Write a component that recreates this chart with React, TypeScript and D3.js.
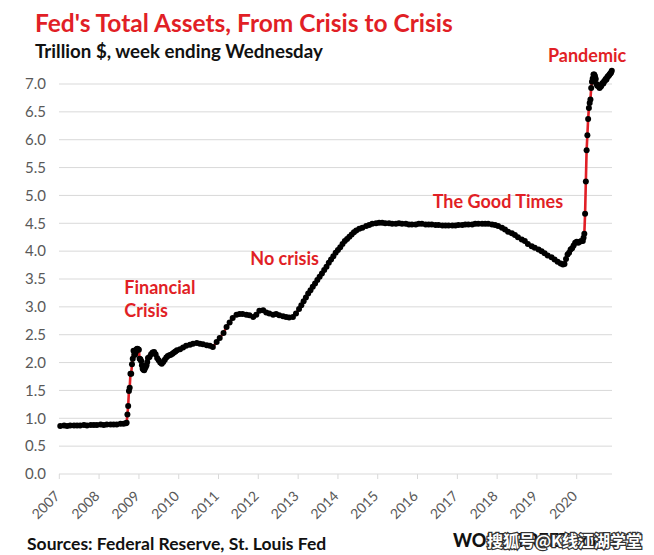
import React from "react";
import * as d3 from "d3";

// ---- Data (trillion $, week ending Wednesday) ----
const calm2007to2008: [string, number][] = [
  ["2007-01-10", 0.86], ["2007-02-14", 0.87], ["2007-03-14", 0.86], ["2007-04-11", 0.87],
  ["2007-05-16", 0.87], ["2007-06-13", 0.87], ["2007-07-11", 0.87], ["2007-08-15", 0.88],
  ["2007-09-12", 0.87], ["2007-10-17", 0.88], ["2007-11-14", 0.88], ["2007-12-12", 0.88],
  ["2008-01-16", 0.89], ["2008-02-13", 0.88], ["2008-03-12", 0.89], ["2008-04-16", 0.89],
  ["2008-05-14", 0.89], ["2008-06-11", 0.89], ["2008-07-16", 0.90], ["2008-08-13", 0.90],
  ["2008-09-03", 0.91], ["2008-09-10", 0.92],
];
const financialCrisis: [string, number][] = [
  ["2008-09-17", 1.07], ["2008-09-24", 1.22], ["2008-10-01", 1.49], ["2008-10-08", 1.55],
  ["2008-10-15", 1.80], ["2008-10-22", 1.80], ["2008-10-29", 1.97], ["2008-11-05", 2.07],
  ["2008-11-12", 2.21], ["2008-11-19", 2.14], ["2008-11-26", 2.14], ["2008-12-03", 2.19],
  ["2008-12-10", 2.24], ["2008-12-17", 2.25], ["2008-12-24", 2.24], ["2008-12-31", 2.23],
  ["2009-01-07", 2.07], ["2009-01-14", 2.06], ["2009-01-21", 2.03], ["2009-01-28", 1.95],
  ["2009-02-04", 1.89], ["2009-02-11", 1.87], ["2009-02-18", 1.86], ["2009-02-25", 1.90],
  ["2009-03-04", 1.92], ["2009-03-11", 1.95], ["2009-03-18", 2.01], ["2009-03-25", 2.08],
  ["2009-04-08", 2.10], ["2009-04-22", 2.15], ["2009-05-06", 2.18], ["2009-05-20", 2.19],
  ["2009-06-03", 2.15], ["2009-06-17", 2.08], ["2009-07-01", 2.04], ["2009-07-15", 2.00],
  ["2009-07-29", 1.98], ["2009-08-12", 2.01], ["2009-08-26", 2.05], ["2009-09-09", 2.09],
  ["2009-09-23", 2.12], ["2009-10-07", 2.13], ["2009-10-21", 2.14], ["2009-11-04", 2.16],
  ["2009-11-18", 2.18], ["2009-12-02", 2.20], ["2009-12-16", 2.22],
];
const noCrisis: [string, number][] = [
  ["2010-01-13", 2.24], ["2010-02-10", 2.27], ["2010-03-10", 2.30], ["2010-04-14", 2.32],
  ["2010-05-12", 2.34], ["2010-06-16", 2.35], ["2010-07-14", 2.34], ["2010-08-11", 2.33],
  ["2010-09-15", 2.31], ["2010-10-13", 2.30], ["2010-11-10", 2.28], ["2010-12-15", 2.37],
  ["2011-01-12", 2.44], ["2011-02-16", 2.53], ["2011-03-16", 2.64], ["2011-04-13", 2.72],
  ["2011-05-11", 2.80], ["2011-06-15", 2.86], ["2011-07-13", 2.87], ["2011-08-10", 2.87],
  ["2011-09-14", 2.86], ["2011-10-12", 2.85], ["2011-11-16", 2.82], ["2011-12-14", 2.86],
  ["2012-01-11", 2.93], ["2012-02-15", 2.94], ["2012-03-14", 2.90], ["2012-04-11", 2.88],
  ["2012-05-16", 2.86], ["2012-06-13", 2.87], ["2012-07-11", 2.85], ["2012-08-15", 2.83],
  ["2012-09-12", 2.82], ["2012-10-10", 2.81], ["2012-11-14", 2.82], ["2012-12-12", 2.88],
  ["2013-01-09", 2.96], ["2013-01-30", 3.03], ["2013-02-20", 3.10], ["2013-03-13", 3.17],
  ["2013-04-03", 3.24], ["2013-04-24", 3.30], ["2013-05-15", 3.36], ["2013-06-05", 3.42],
  ["2013-06-26", 3.48], ["2013-07-17", 3.54], ["2013-08-07", 3.60], ["2013-08-28", 3.66],
  ["2013-09-18", 3.72], ["2013-10-09", 3.79], ["2013-10-30", 3.85], ["2013-11-20", 3.91],
  ["2013-12-11", 3.97], ["2014-01-01", 4.02], ["2014-01-22", 4.07], ["2014-02-12", 4.13],
  ["2014-03-05", 4.18], ["2014-03-26", 4.22], ["2014-04-16", 4.26], ["2014-05-07", 4.30],
  ["2014-05-28", 4.34], ["2014-06-18", 4.37], ["2014-07-16", 4.40], ["2014-08-13", 4.42],
  ["2014-09-17", 4.45], ["2014-10-15", 4.47], ["2014-11-12", 4.49], ["2014-12-17", 4.50],
];
const goodTimes: [string, number][] = [
  ["2015-01-14", 4.51], ["2015-02-11", 4.51], ["2015-03-11", 4.50], ["2015-04-15", 4.50],
  ["2015-05-13", 4.49], ["2015-06-17", 4.49], ["2015-07-15", 4.50], ["2015-08-12", 4.49],
  ["2015-09-16", 4.49], ["2015-10-14", 4.48], ["2015-11-11", 4.48], ["2015-12-16", 4.48],
  ["2016-01-13", 4.49], ["2016-02-10", 4.49], ["2016-03-16", 4.48], ["2016-04-13", 4.48],
  ["2016-05-11", 4.48], ["2016-06-15", 4.47], ["2016-07-13", 4.47], ["2016-08-17", 4.46],
  ["2016-09-14", 4.46], ["2016-10-12", 4.46], ["2016-11-16", 4.46], ["2016-12-14", 4.46],
  ["2017-01-11", 4.47], ["2017-02-15", 4.47], ["2017-03-15", 4.48], ["2017-04-12", 4.48],
  ["2017-05-17", 4.48], ["2017-06-14", 4.49], ["2017-07-12", 4.49], ["2017-08-16", 4.49],
  ["2017-09-13", 4.49], ["2017-10-11", 4.49], ["2017-11-15", 4.48], ["2017-12-13", 4.47],
  ["2018-01-10", 4.45], ["2018-02-14", 4.42], ["2018-03-14", 4.39], ["2018-04-11", 4.35],
  ["2018-05-16", 4.32], ["2018-06-13", 4.29], ["2018-07-11", 4.25], ["2018-08-15", 4.21],
  ["2018-09-12", 4.18], ["2018-10-10", 4.13], ["2018-11-14", 4.09], ["2018-12-12", 4.06],
  ["2019-01-16", 4.03], ["2019-02-13", 4.00], ["2019-03-13", 3.96], ["2019-04-10", 3.92],
  ["2019-05-15", 3.89], ["2019-06-12", 3.85], ["2019-07-10", 3.81], ["2019-08-07", 3.78],
  ["2019-08-28", 3.76], ["2019-09-11", 3.77], ["2019-09-25", 3.86], ["2019-10-09", 3.94],
  ["2019-10-23", 3.97], ["2019-11-06", 4.03], ["2019-11-20", 4.05], ["2019-12-04", 4.10],
  ["2019-12-18", 4.15], ["2020-01-01", 4.17], ["2020-01-15", 4.15], ["2020-01-29", 4.17],
  ["2020-02-12", 4.18], ["2020-02-26", 4.18], ["2020-03-04", 4.24], ["2020-03-11", 4.31],
];
const pandemic: [string, number][] = [
  ["2020-03-18", 4.67], ["2020-03-25", 5.25], ["2020-04-01", 5.81], ["2020-04-08", 6.08],
  ["2020-04-15", 6.37], ["2020-04-22", 6.57], ["2020-04-29", 6.66], ["2020-05-06", 6.72],
  ["2020-05-13", 6.93], ["2020-05-20", 7.04], ["2020-05-27", 7.10], ["2020-06-03", 7.17],
  ["2020-06-10", 7.17], ["2020-06-17", 7.14], ["2020-06-24", 7.09], ["2020-07-01", 7.00],
  ["2020-07-08", 6.97], ["2020-07-15", 6.97], ["2020-07-22", 6.96], ["2020-07-29", 6.93],
  ["2020-08-05", 6.95], ["2020-08-12", 6.96], ["2020-08-19", 7.00], ["2020-08-26", 7.02],
  ["2020-09-02", 7.01], ["2020-09-09", 7.05], ["2020-09-16", 7.06], ["2020-09-23", 7.09],
  ["2020-09-30", 7.08], ["2020-10-07", 7.12], ["2020-10-14", 7.14], ["2020-10-21", 7.15],
  ["2020-10-28", 7.17], ["2020-11-04", 7.19], ["2020-11-11", 7.20], ["2020-11-18", 7.24],
];

const yTicks = [0, 0.5, 1, 1.5, 2, 2.5, 3, 3.5, 4, 4.5, 5, 5.5, 6, 6.5, 7];
const yearLabels = ["2007", "2008", "2009", "2010", "2011", "2012", "2013", "2014", "2015", "2016", "2017", "2018", "2019", "2020"];

const annotations = [
  { lines: ["Financial", "Crisis"], date: "2008-08-20", value: 3.23 },
  { lines: ["No crisis"], date: "2011-10-20", value: 3.76 },
  { lines: ["The Good Times"], date: "2016-05-20", value: 4.78 },
  { lines: ["Pandemic"], date: "2019-04-12", value: 7.40 },
];

const TITLE = "Fed's Total Assets, From Crisis to Crisis";
const SUBTITLE = "Trillion $, week ending Wednesday";
const SOURCE = "Sources: Federal Reserve, St. Louis Fed";

const RED = "#e11f26";
const FONT = "Lato, 'Open Sans', sans-serif";

export default function App() {
  const parse = d3.timeParse("%Y-%m-%d");
  const data = [...calm2007to2008, ...financialCrisis, ...noCrisis, ...goodTimes, ...pandemic].map(
    ([d, v]) => ({ date: parse(d) as Date, value: v })
  );

  const x = d3
    .scaleTime()
    .domain([parse("2007-01-01") as Date, parse("2020-11-20") as Date])
    .range([59.3, 612]);
  const y = d3.scaleLinear().domain([0, 7]).range([474, 84]);

  const line = d3
    .line<{ date: Date; value: number }>()
    .x((d) => x(d.date))
    .y((d) => y(d.value));

  const gridX0 = 59;
  const gridX1 = 612;

  return (
    <svg width={654} height={555} style={{ position: "absolute", left: 0, top: 0, background: "#fff" }}>
      <rect width={654} height={555} fill="#fff" />
      {/* Title */}
      <text x={35} y={32} fill={RED} fontFamily={FONT} fontWeight={700} fontSize={24.5}>
        {TITLE}
      </text>
      <text x={35} y={58} fill="#111" fontFamily={FONT} fontWeight={700} fontSize={18.7}>
        {SUBTITLE}
      </text>

      {/* Grid */}
      {yTicks.map((t) => (
        <g key={t}>
          <line x1={gridX0} x2={gridX1} y1={y(t)} y2={y(t)} stroke="#d9d9d9" strokeWidth={1} />
          <text x={46} y={y(t)} dy="0.35em" textAnchor="end" fill="#595959" fontFamily={FONT} fontSize={15}>
            {d3.format(".1f")(t)}
          </text>
        </g>
      ))}

      {/* X ticks and labels */}
      {yearLabels.map((yr) => {
        const xp = x(parse(`${yr}-01-01`) as Date);
        return (
          <g key={yr}>
            <line x1={xp} x2={xp} y1={y(0)} y2={y(0) + 5} stroke="#d9d9d9" />
            <text
              transform={`translate(${xp + 1.5},${y(0) + 23}) rotate(-45)`}
              textAnchor="end"
              fill="#595959"
              fontFamily={FONT}
              fontSize={14}
            >
              {yr}
            </text>
          </g>
        );
      })}

      {/* Series */}
      <path d={line(data) ?? ""} fill="none" stroke={RED} strokeWidth={2.6} strokeLinejoin="round" />
      {data.map((d, i) => (
        <circle key={i} cx={x(d.date)} cy={y(d.value)} r={3} fill="#000" />
      ))}

      {/* Annotations */}
      {annotations.map((a, i) => (
        <text key={i} fill={RED} fontFamily={FONT} fontWeight={700} fontSize={18}>
          {a.lines.map((l, j) => (
            <tspan key={j} x={x(parse(a.date) as Date)} y={y(a.value) + j * 23}>
              {l}
            </tspan>
          ))}
        </text>
      ))}

      {/* Footer */}
      <text x={27} y={550} fill="#111" fontFamily={FONT} fontWeight={700} fontSize={17.5}>
        {SOURCE}
      </text>
      <text x={453} y={547} fill="#111" fontFamily={FONT} fontWeight={900} fontSize={18}>
        WOLFSTREET.com
      </text>
      <text
        x={487}
        y={547}
        fill="#fff"
        stroke="#333"
        strokeWidth={2.5}
        paintOrder="stroke"
        fontFamily="'Noto Sans CJK SC', sans-serif"
        fontWeight={700}
        fontSize={16}
      >
        搜狐号@K线江湖学堂
      </text>
    </svg>
  );
}
